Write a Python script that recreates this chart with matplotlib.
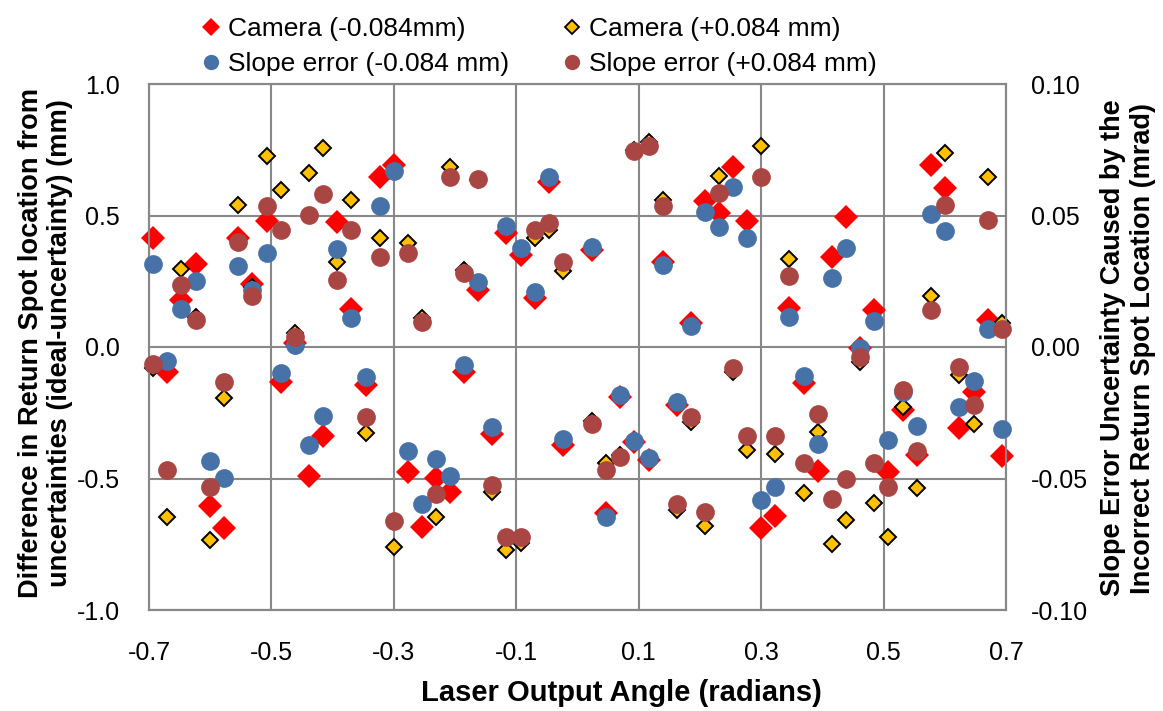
import matplotlib
matplotlib.use("Agg")
import matplotlib.pyplot as plt
from matplotlib.lines import Line2D

plt.rcParams['font.family'] = ['Liberation Sans', 'DejaVu Sans']

# Laser output angle (radians)
angles = [-0.693, -0.670, -0.647, -0.624, -0.600, -0.577, -0.554, -0.531, -0.508, -0.485,
          -0.462, -0.439, -0.416, -0.393, -0.370, -0.346, -0.323, -0.300, -0.277, -0.254,
          -0.231, -0.208, -0.185, -0.162, -0.139, -0.116, -0.092, -0.069, -0.046, -0.023,
          0.023, 0.046, 0.069, 0.092, 0.116, 0.139, 0.162, 0.185, 0.208, 0.231,
          0.254, 0.277, 0.300, 0.323, 0.346, 0.370, 0.393, 0.416, 0.439, 0.462,
          0.485, 0.508, 0.531, 0.554, 0.577, 0.600, 0.624, 0.647, 0.670, 0.693]

# Camera (-0.084mm), mm
camera_minus = [0.416, -0.094, 0.179, 0.316, -0.603, -0.690, 0.414, 0.240, 0.479, -0.132,
                0.015, -0.490, -0.337, 0.475, 0.144, -0.144, 0.648, 0.692, -0.474, -0.683,
                -0.499, -0.553, -0.094, 0.217, -0.331, 0.432, 0.350, 0.185, 0.629, -0.373,
                0.369, -0.632, -0.190, -0.360, -0.430, 0.324, -0.221, 0.090, 0.556, 0.508,
                0.686, 0.480, -0.687, -0.641, 0.147, -0.138, -0.471, 0.341, 0.495, -0.003,
                0.141, -0.474, -0.240, -0.411, 0.692, 0.603, -0.309, -0.172, 0.103, -0.413]

# Camera (+0.084 mm), mm
camera_plus = [-0.081, -0.645, 0.297, 0.115, -0.734, -0.193, 0.540, 0.228, 0.726, 0.597,
               0.053, 0.662, 0.757, 0.323, 0.559, -0.328, 0.413, -0.762, 0.397, 0.110,
               -0.645, 0.686, 0.293, 0.635, -0.553, -0.772, -0.746, 0.414, 0.445, 0.289,
               -0.280, -0.440, -0.410, 0.750, 0.780, 0.559, -0.620, -0.286, -0.679, 0.650,
               -0.096, -0.392, 0.764, -0.408, 0.333, -0.554, -0.324, -0.750, -0.658, -0.056,
               -0.594, -0.721, -0.227, -0.537, 0.194, 0.739, -0.106, -0.294, 0.648, 0.090]

# Slope error (-0.084 mm), mrad
slope_minus = [0.0314, -0.0053, 0.0144, 0.0251, -0.0433, -0.0497, 0.0308, 0.0217, 0.0357, -0.0098,
               0.0008, -0.0373, -0.0261, 0.0373, 0.0110, -0.0113, 0.0536, 0.0669, -0.0395, -0.0597,
               -0.0427, -0.0489, -0.0068, 0.0248, -0.0303, 0.0461, 0.0378, 0.0210, 0.0645, -0.0350,
               0.0379, -0.0645, -0.0183, -0.0356, -0.0421, 0.0312, -0.0208, 0.0080, 0.0512, 0.0457,
               0.0607, 0.0416, -0.0582, -0.0533, 0.0115, -0.0109, -0.0370, 0.0261, 0.0375, -0.0005,
               0.0100, -0.0354, -0.0170, -0.0299, 0.0506, 0.0441, -0.0227, -0.0128, 0.0067, -0.0312]

# Slope error (+0.084 mm), mrad
slope_plus = [-0.0066, -0.0468, 0.0236, 0.0103, -0.0531, -0.0132, 0.0399, 0.0194, 0.0536, 0.0445,
              0.0038, 0.0502, 0.0582, 0.0255, 0.0445, -0.0265, 0.0341, -0.0662, 0.0359, 0.0096,
              -0.0559, 0.0648, 0.0280, 0.0638, -0.0525, -0.0724, -0.0724, 0.0445, 0.0470, 0.0322,
              -0.0294, -0.0468, -0.0417, 0.0746, 0.0764, 0.0536, -0.0598, -0.0265, -0.0626, 0.0587,
              -0.0081, -0.0337, 0.0648, -0.0337, 0.0270, -0.0442, -0.0256, -0.0578, -0.0502, -0.0037,
              -0.0442, -0.0533, -0.0163, -0.0395, 0.0141, 0.0540, -0.0077, -0.0221, 0.0483, 0.0067]

x_ticks = [-0.7, -0.5, -0.3, -0.1, 0.1, 0.3, 0.5, 0.7]
x_ticklabels = ['-0.7', '-0.5', '-0.3', '-0.1', '0.1', '0.3', '0.5', '0.7']
y_ticks = [-1.0, -0.5, 0.0, 0.5, 1.0]
y_ticklabels = ['-1.0', '-0.5', '0.0', '0.5', '1.0']
y2_ticks = [-0.10, -0.05, 0.0, 0.05, 0.10]
y2_ticklabels = ['-0.10', '-0.05', '0.00', '0.05', '0.10']

RED = '#FF0000'
GOLD = '#FFC000'
BLUE = '#4672A8'
BROWN = '#A94643'
GRID = '#888888'

fig = plt.figure(figsize=(11.63, 7.11), dpi=100)
ax = fig.add_axes([149 / 1163, 1 - 610 / 711, (1006 - 149) / 1163, (610 - 84) / 711])
ax2 = ax.twinx()

ax.set_xlim(-0.7, 0.7)
ax.set_ylim(-1.0, 1.0)
ax2.set_ylim(-0.1, 0.1)

ax.set_xticks(x_ticks)
ax.set_xticklabels(x_ticklabels)
ax.set_yticks(y_ticks)
ax.set_yticklabels(y_ticklabels)
ax2.set_yticks(y2_ticks)
ax2.set_yticklabels(y2_ticklabels)

ax.grid(True, color=GRID, linewidth=1.5)
ax.set_axisbelow(True)
for a in (ax, ax2):
    for s in a.spines.values():
        s.set_color(GRID)
        s.set_linewidth(1.5)
ax.tick_params(axis='both', length=0, labelsize=18, colors='black')
ax.tick_params(axis='y', pad=21)
ax.tick_params(axis='x', pad=22)
ax2.tick_params(axis='y', length=0, labelsize=18, pad=18)

ax.plot(angles, camera_minus, ls='none', marker='D', ms=11.8, mfc=RED, mec=RED, mew=0,
        zorder=3, clip_on=False)
ax.plot(angles, camera_plus, ls='none', marker='D', ms=8.3, mfc=GOLD, mec='black', mew=1.4,
        zorder=4, clip_on=False)
ax2.plot(angles, slope_minus, ls='none', marker='o', ms=13.5, mfc=BLUE, mec=BLUE, mew=0,
         zorder=3, clip_on=False)
ax2.plot(angles, slope_plus, ls='none', marker='o', ms=13.5, mfc=BROWN, mec=BROWN, mew=0,
         zorder=4, clip_on=False)

fig.text(46 / 1163, 1 - 343 / 711,
         'Difference in Return Spot location from\nuncertainties (ideal-uncertainty) (mm)',
         rotation=90, ha='center', va='center', fontsize=19.6, fontweight='bold',
         multialignment='center', linespacing=1.15)
fig.text(1128 / 1163, 1 - 348 / 711,
         'Slope Error Uncertainty Caused by the\nIncorrect Return Spot Location (mrad)',
         rotation=90, ha='center', va='center', fontsize=19.5, fontweight='bold',
         multialignment='center', linespacing=1.15)
fig.text(621 / 1163, 1 - 693 / 711, 'Laser Output Angle (radians)',
         ha='center', va='center', fontsize=21, fontweight='bold')

handles = [
    Line2D([], [], ls='none', marker='D', ms=9, mfc=RED, mec=RED, mew=0),
    Line2D([], [], ls='none', marker='o', ms=11, mfc=BLUE, mec=BLUE, mew=0),
    Line2D([], [], ls='none', marker='D', ms=7, mfc=GOLD, mec='black', mew=1.3),
    Line2D([], [], ls='none', marker='o', ms=11, mfc=BROWN, mec=BROWN, mew=0),
]
labels = ['Camera (-0.084mm)', 'Slope error (-0.084 mm)',
          'Camera (+0.084 mm)', 'Slope error (+0.084 mm)']
fig.legend(handles, labels, loc='upper left', bbox_to_anchor=(200 / 1163, 1 - 17 / 711),
           ncol=2, frameon=False, fontsize=19, handlelength=0.8, handletextpad=0.25,
           columnspacing=2.0, borderpad=0, borderaxespad=0, labelspacing=0.42)

fig.savefig('out.png', dpi=100)
